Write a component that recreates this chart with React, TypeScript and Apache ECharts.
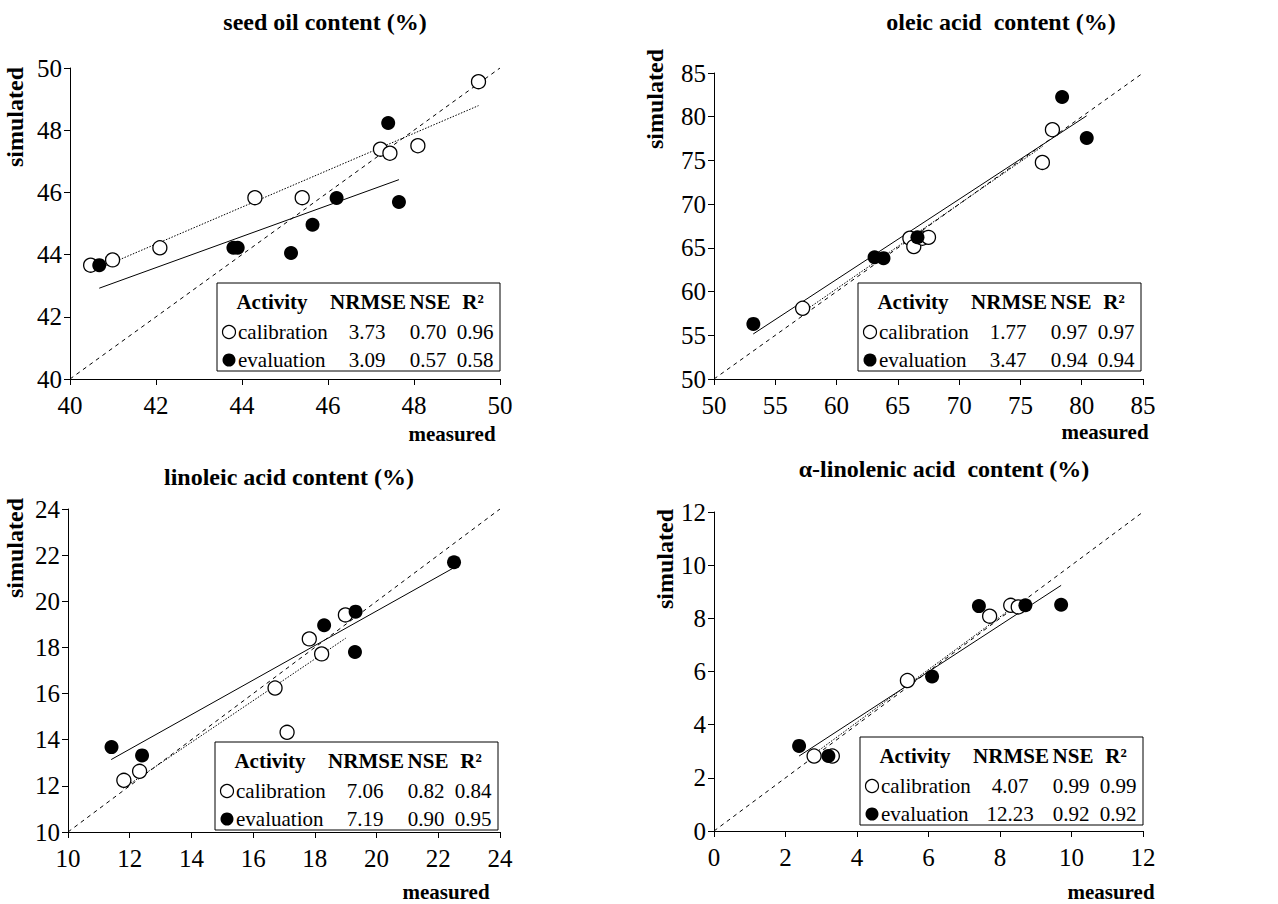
import React, { useEffect, useRef } from "react";
import * as echarts from "echarts";

// ---------- data ----------
const titles = [
  "seed oil content (%)",
  "oleic acid  content (%)",
  "linoleic acid content (%)",
  "α-linolenic acid  content (%)",
];
const axisMin = [40, 50, 10, 0];
const axisMax = [50, 85, 24, 12];
const axisInterval = [2, 5, 2, 2];

const seedCalibration = [[40.48, 43.66], [40.99, 43.83], [42.09, 44.22], [44.3, 45.83], [45.4, 45.83], [47.22, 47.39], [47.44, 47.26], [48.09, 47.5], [49.5, 49.56]];
const seedEvaluation = [[40.68, 43.66], [43.8, 44.22], [43.9, 44.22], [45.14, 44.05], [45.64, 44.96], [46.2, 45.82], [47.4, 48.23], [47.65, 45.69]];
const seedCalTrend = [[40.5, 43.45], [49.5, 48.79]];
const seedEvalTrend = [[40.68, 42.92], [47.65, 46.41]];

const oleicCalibration = [[57.23, 58.09], [65.98, 66.11], [66.3, 65.15], [67.0, 66.1], [67.5, 66.2], [76.79, 74.77], [77.61, 78.51]];
const oleicEvaluation = [[53.21, 56.3], [63.1, 63.93], [63.83, 63.82], [66.6, 66.22], [78.4, 82.25], [80.41, 77.56]];
const oleicCalTrend = [[57.2, 57.6], [76.8, 76.6]];
const oleicEvalTrend = [[53.2, 55.15], [80.4, 80.1]];

const linoleicCalibration = [[11.81, 12.24], [12.32, 12.63], [16.71, 16.24], [17.1, 14.32], [17.82, 18.37], [18.22, 17.72], [18.99, 19.41]];
const linoleicEvaluation = [[11.41, 13.68], [12.4, 13.32], [18.3, 18.96], [19.32, 19.55], [19.3, 17.8], [22.51, 21.69]];
const linoleicCalTrend = [[11.8, 11.9], [19.0, 18.4]];
const linoleicEvalTrend = [[11.4, 13.14], [22.5, 21.45]];

const linolenicCalibration = [[2.8, 2.82], [3.31, 2.82], [5.41, 5.66], [7.71, 8.08], [8.3, 8.49], [8.51, 8.43]];
const linolenicEvaluation = [[2.38, 3.2], [3.2, 2.82], [6.1, 5.81], [7.41, 8.46], [8.71, 8.49], [9.71, 8.51]];
const linolenicCalTrend = [[2.8, 2.9], [8.5, 8.55]];
const linolenicEvalTrend = [[2.38, 2.82], [9.71, 9.24]];

const statHeaders = ["Activity", "NRMSE", "NSE", "R²"];
const activityNames = ["calibration", "evaluation"];
const nrmseCal = ["3.73", "1.77", "7.06", "4.07"];
const nrmseEval = ["3.09", "3.47", "7.19", "12.23"];
const nseCal = ["0.70", "0.97", "0.82", "0.99"];
const nseEval = ["0.57", "0.94", "0.90", "0.92"];
const r2Cal = ["0.96", "0.97", "0.84", "0.99"];
const r2Eval = ["0.58", "0.94", "0.95", "0.92"];

const calibrations = [seedCalibration, oleicCalibration, linoleicCalibration, linolenicCalibration];
const evaluations = [seedEvaluation, oleicEvaluation, linoleicEvaluation, linolenicEvaluation];
const calTrends = [seedCalTrend, oleicCalTrend, linoleicCalTrend, linolenicCalTrend];
const evalTrends = [seedEvalTrend, oleicEvalTrend, linoleicEvalTrend, linolenicEvalTrend];

// ---------- layout ----------
const FONT = "Liberation Serif";
const grids = [
  { left: 70, top: 68, width: 430, height: 311 },
  { left: 714, top: 73, width: 429, height: 306 },
  { left: 68, top: 509, width: 432, height: 323 },
  { left: 714, top: 512, width: 429, height: 319 },
];
const titlePos = [[325, 22], [1001, 22], [289, 477], [944, 469]];
const simulatedPos = [[15, 117], [655, 99], [15, 548], [665, 559]];
const measuredPos = [[452, 434], [1105, 432], [446, 892], [1111, 892]];
const boxPos = [[217, 283], [858, 283], [215, 742], [860, 737]];
const BOX_W = 283;
const BOX_H = 88;

function text(x: number, y: number, s: string, size: number, bold: boolean, align = "center", extra: any = {}) {
  return {
    type: "text",
    x,
    y,
    z: 100,
    ...extra,
    style: {
      text: s,
      fontFamily: FONT,
      fontSize: size,
      fontWeight: bold ? "bold" : "normal",
      fill: "#000",
      align,
      textAlign: align,
      verticalAlign: "middle",
      textVerticalAlign: "middle",
    },
  };
}

export default function App() {
  const ref = useRef<HTMLDivElement>(null);
  useEffect(() => {
    if (!ref.current) return;
    const chart = echarts.init(ref.current, undefined, { renderer: "svg" });

    const xAxis: any[] = [];
    const yAxis: any[] = [];
    const series: any[] = [];
    const graphic: any[] = [];

    for (let i = 0; i < 4; i++) {
      const axisCommon = {
        gridIndex: i,
        type: "value",
        min: axisMin[i],
        max: axisMax[i],
        interval: axisInterval[i],
        axisLine: { show: true, onZero: false, lineStyle: { color: "#000", width: 1 } },
        axisTick: { show: true, inside: false, length: 6, lineStyle: { color: "#000", width: 1 } },
        splitLine: { show: false },
        axisLabel: { fontFamily: FONT, fontSize: 25, color: "#000" },
      };
      xAxis.push({ ...axisCommon, axisLabel: { ...axisCommon.axisLabel, margin: 14 } });
      yAxis.push({ ...axisCommon, axisLabel: { ...axisCommon.axisLabel, margin: 8 } });

      const lineBase = { type: "line", xAxisIndex: i, yAxisIndex: i, showSymbol: false, symbol: "none", silent: true, z: 2 };
      series.push({
        ...lineBase,
        data: [[axisMin[i], axisMin[i]], [axisMax[i], axisMax[i]]],
        lineStyle: { color: "#000", width: 1, type: [4, 4] },
      });
      series.push({
        ...lineBase,
        data: calTrends[i],
        lineStyle: { color: "#000", width: 1, type: [1.5, 1.5] },
      });
      series.push({
        ...lineBase,
        data: evalTrends[i],
        lineStyle: { color: "#000", width: 1, type: "solid" },
      });
      series.push({
        type: "scatter",
        xAxisIndex: i,
        yAxisIndex: i,
        data: calibrations[i],
        symbol: "circle",
        symbolSize: 14,
        itemStyle: { color: "#fff", borderColor: "#000", borderWidth: 1.3, opacity: 1 },
        z: 3,
      });
      series.push({
        type: "scatter",
        xAxisIndex: i,
        yAxisIndex: i,
        data: evaluations[i],
        symbol: "circle",
        symbolSize: 14,
        itemStyle: { color: "#000", opacity: 1 },
        z: 4,
      });

      // titles & axis names
      graphic.push(text(titlePos[i][0], titlePos[i][1], titles[i], 24, true));
      graphic.push(text(simulatedPos[i][0], simulatedPos[i][1], "simulated", 24, true, "center", { rotation: Math.PI / 2 }));
      graphic.push(text(measuredPos[i][0], measuredPos[i][1], "measured", 21, true));

      // stats box
      const [bx, by] = boxPos[i];
      graphic.push({
        type: "rect",
        z: 99,
        shape: { x: bx, y: by, width: BOX_W, height: BOX_H },
        style: { fill: "#fff", stroke: "#000", lineWidth: 1 },
      });
      const hy = by + 19;
      graphic.push(text(bx + 55, hy, statHeaders[0], 21, true));
      graphic.push(text(bx + 151, hy, statHeaders[1], 21, true));
      graphic.push(text(bx + 213, hy, statHeaders[2], 21, true));
      graphic.push(text(bx + 256, hy, statHeaders[3], 21, true));
      const rows = [
        { y: by + 49, name: activityNames[0], n: nrmseCal[i], s: nseCal[i], r: r2Cal[i], filled: false },
        { y: by + 77, name: activityNames[1], n: nrmseEval[i], s: nseEval[i], r: r2Eval[i], filled: true },
      ];
      rows.forEach((row) => {
        graphic.push({
          type: "circle",
          z: 100,
          shape: { cx: bx + 12, cy: row.y, r: 6.5 },
          style: row.filled ? { fill: "#000" } : { fill: "#fff", stroke: "#000", lineWidth: 1.2 },
        });
        graphic.push(text(bx + 21, row.y, row.name, 21, false, "left"));
        graphic.push(text(bx + 150, row.y, row.n, 21, false));
        graphic.push(text(bx + 211, row.y, row.s, 21, false));
        graphic.push(text(bx + 258, row.y, row.r, 21, false));
      });
    }

    chart.setOption({
      animation: false,
      backgroundColor: "#fff",
      textStyle: { fontFamily: FONT, color: "#000" },
      grid: grids.map((g) => ({ ...g, containLabel: false })),
      xAxis,
      yAxis,
      series,
      graphic: { elements: graphic },
    });
    return () => chart.dispose();
  }, []);
  return <div ref={ref} style={{ position: "absolute", left: 0, top: 0, width: 1278, height: 904 }} />;
}
